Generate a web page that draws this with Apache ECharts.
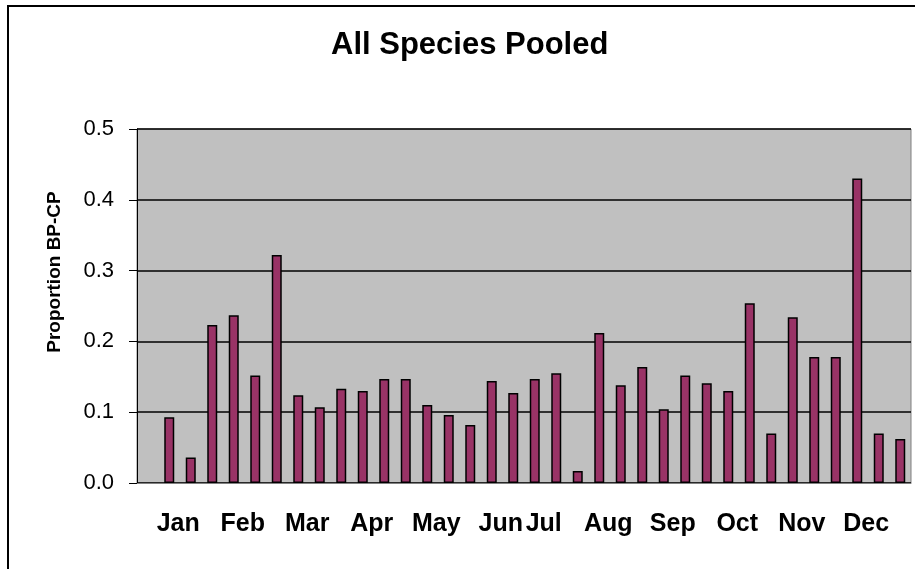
<!DOCTYPE html>
<html>
<head>
<meta charset="utf-8">
<title>All Species Pooled</title>
<script src="https://cdn.jsdelivr.net/npm/echarts@6/dist/echarts.min.js"></script>
<style>
  html, body { margin: 0; padding: 0; background: #fff; }
  #main { width: 915px; height: 569px; }
</style>
</head>
<body>
<div id="main"></div>
<script>
// 横轴分类：第一格空着，月份名只写在部分格子上
var categories = [
  '', 'Jan', '', '', 'Feb', '', '', 'Mar', '', '', 'Apr', '', '', 'May', '', '',
  'Jun', '', 'Jul', '', '', 'Aug', '', '', 'Sep', '', '', 'Oct', '', '', 'Nov', '', '',
  'Dec', '', ''
];
// 每根柱子的数值（第一格没有数据）
var proportion = [
  null, 0.093, 0.036, 0.223, 0.237, 0.152, 0.322, 0.124, 0.107, 0.133, 0.130, 0.147,
  0.147, 0.110, 0.096, 0.082, 0.144, 0.127, 0.147, 0.155, 0.017, 0.212, 0.138, 0.164,
  0.104, 0.152, 0.141, 0.130, 0.254, 0.070, 0.234, 0.178, 0.178, 0.430, 0.070, 0.062
];
var yTicks = [0.0, 0.1, 0.2, 0.3, 0.4, 0.5];

var chartDom = document.getElementById('main');
var myChart = echarts.init(chartDom);

var option = {
  animation: false,
  backgroundColor: '#ffffff',
  title: {
    text: 'All Species Pooled',
    left: 326,
    top: 25,
    textStyle: {
      fontFamily: 'Liberation Sans, Arial, sans-serif',
      fontSize: 31,
      fontWeight: 'bold',
      color: '#000'
    }
  },
  // 外框
  graphic: [{
    type: 'rect',
    shape: { x: 8, y: 6, width: 1000, height: 1000 },
    style: { fill: 'none', stroke: '#000', lineWidth: 2 },
    silent: true
  }],
  grid: {
    left: 137,
    right: 4,
    top: 129,
    bottom: 86,
    show: true,
    backgroundColor: '#c0c0c0',
    borderColor: '#808080',
    borderWidth: 1
  },
  xAxis: {
    type: 'category',
    data: categories,
    axisLine: { show: true, lineStyle: { color: '#808080', width: 1 } },
    axisTick: { show: false },
    axisLabel: {
      interval: 0,
      margin: 29,
      padding: [0, 0, 0, 18],
      fontFamily: 'Liberation Sans, Arial, sans-serif',
      fontSize: 25,
      fontWeight: 'bold',
      color: '#000'
    },
    splitLine: { show: false }
  },
  yAxis: {
    type: 'value',
    min: 0,
    max: 0.5,
    interval: 0.1,
    name: 'Proportion BP-CP',
    nameLocation: 'middle',
    nameGap: 73,
    nameTextStyle: {
      fontFamily: 'Liberation Sans, Arial, sans-serif',
      fontSize: 19,
      fontWeight: 'bold',
      color: '#000',
      padding: [0, 0, 0, 68]
    },
    axisLine: { show: true, lineStyle: { color: '#000', width: 1 } },
    axisTick: { show: true, inside: false, length: 8, lineStyle: { color: '#000' } },
    axisLabel: {
      margin: 23,
      fontFamily: 'Liberation Sans, Arial, sans-serif',
      fontSize: 22,
      color: '#000',
      formatter: function (v) {
        // 只显示一位小数
        for (var i = 0; i < yTicks.length; i++) {
          if (Math.abs(v - yTicks[i]) < 1e-9) return yTicks[i].toFixed(1);
        }
        return '';
      }
    },
    splitLine: { show: true, lineStyle: { color: '#000', width: 1.5 } }
  },
  series: [{
    type: 'bar',
    data: proportion,
    barWidth: 10,
    itemStyle: {
      color: '#993366',
      borderColor: '#000',
      borderWidth: 1.5
    }
  }]
};
myChart.setOption(option);
</script>
</body>
</html>
